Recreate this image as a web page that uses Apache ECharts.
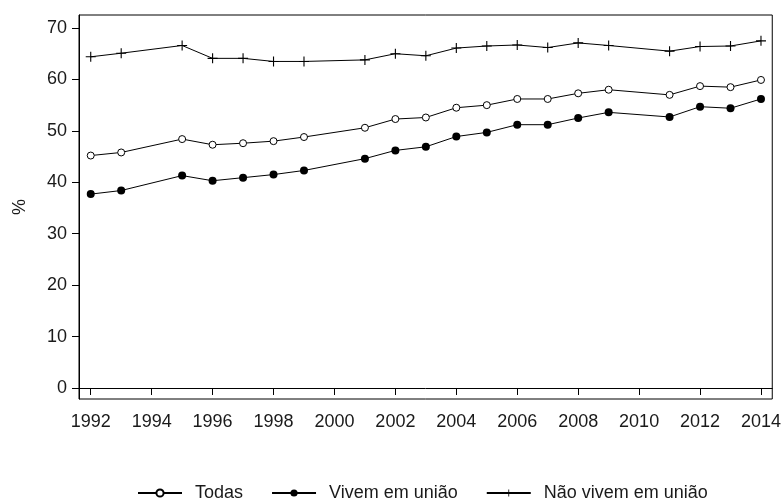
<!DOCTYPE html>
<html>
<head>
<meta charset="utf-8">
<script src="https://cdn.jsdelivr.net/npm/echarts@6/dist/echarts.min.js"></script>
<style>
  html, body { margin: 0; padding: 0; background: #fff; }
  #main { width: 784px; height: 504px; }
</style>
</head>
<body>
<div id="main"></div>
<script>
// anos da PNAD (sem 1994, 2000, 2010)
var anos = [1992, 1993, 1995, 1996, 1997, 1998, 1999, 2001, 2002, 2003, 2004, 2005, 2006, 2007, 2008, 2009, 2011, 2012, 2013, 2014];
var todas = [45.2, 45.8, 48.4, 47.3, 47.6, 48.0, 48.8, 50.6, 52.3, 52.6, 54.5, 55.0, 56.2, 56.2, 57.3, 58.0, 57.0, 58.7, 58.5, 59.9];
var vivem = [37.7, 38.4, 41.3, 40.3, 40.9, 41.5, 42.3, 44.6, 46.2, 46.9, 48.9, 49.7, 51.2, 51.2, 52.5, 53.6, 52.7, 54.7, 54.4, 56.2];
var naoVivem = [64.4, 65.1, 66.6, 64.1, 64.1, 63.5, 63.5, 63.8, 65.0, 64.6, 66.1, 66.5, 66.7, 66.2, 67.1, 66.6, 65.5, 66.4, 66.5, 67.5];
var xTicks = [1992, 1994, 1996, 1998, 2000, 2002, 2004, 2006, 2008, 2010, 2012, 2014];
var yTicks = [0, 10, 20, 30, 40, 50, 60, 70];

var fonte = '"Liberation Sans", Arial, sans-serif';
var corTexto = '#1a1a1a';

function pares(vals) {
  return anos.map(function (a, i) { return [a, vals[i]]; });
}

var chart = echarts.init(document.getElementById('main'));
var plus = 'path://M4,0h1v4h4v1h-4v4h-1v-4h-4v-1h4z';

var option = {
  backgroundColor: '#ffffff',
  animation: false,
  grid: {
    left: 79, right: 11, top: 15, bottom: 105,
    show: true, borderColor: '#000', borderWidth: 1,
    containLabel: false
  },
  legend: {
    top: 479,
    left: 132,
    itemWidth: 44,
    itemHeight: 9,
    itemGap: 28,
    textStyle: { fontFamily: fonte, fontSize: 18, color: corTexto, padding: [0, 0, 0, 8] },
    data: ['Todas', 'Vivem em união', 'Não vivem em união']
  },
  xAxis: {
    type: 'value',
    min: 1991.615,
    max: 2014.37,
    splitLine: { show: false },
    axisLine: { show: true, lineStyle: { color: '#000', width: 1 } },
    axisTick: { show: true, length: 7, customValues: xTicks, lineStyle: { color: '#000' } },
    axisLabel: {
      customValues: xTicks,
      margin: 14,
      fontFamily: fonte, fontSize: 18, color: corTexto,
      formatter: function (v) { return String(v); }
    }
  },
  yAxis: {
    type: 'value',
    min: -2.14,
    max: 72.53,
    name: '%',
    nameLocation: 'middle',
    nameGap: 50,
    nameTextStyle: { fontFamily: fonte, fontSize: 18, color: corTexto },
    splitLine: { show: false },
    axisLine: { show: true, lineStyle: { color: '#000', width: 1 } },
    axisTick: { show: true, length: 7, customValues: yTicks, lineStyle: { color: '#000' } },
    axisLabel: {
      customValues: yTicks,
      margin: 12,
      fontFamily: fonte, fontSize: 18, color: corTexto
    }
  },
  series: [
    {
      name: 'Todas',
      type: 'line',
      data: pares(todas),
      symbol: 'circle',
      symbolSize: 7,
      lineStyle: { color: '#000', width: 1 },
      itemStyle: { color: '#fff', borderColor: '#000', borderWidth: 1 }
    },
    {
      name: 'Vivem em união',
      type: 'line',
      data: pares(vivem),
      symbol: 'circle',
      symbolSize: 8,
      lineStyle: { color: '#000', width: 1 },
      itemStyle: { color: '#000', borderColor: '#000', borderWidth: 0 }
    },
    {
      name: 'Não vivem em união',
      type: 'line',
      data: pares(naoVivem),
      symbol: plus,
      symbolSize: 10,
      lineStyle: { color: '#000', width: 1 },
      itemStyle: { color: '#000', borderWidth: 0 }
    }
  ]
};

chart.setOption(option);
</script>
</body>
</html>
